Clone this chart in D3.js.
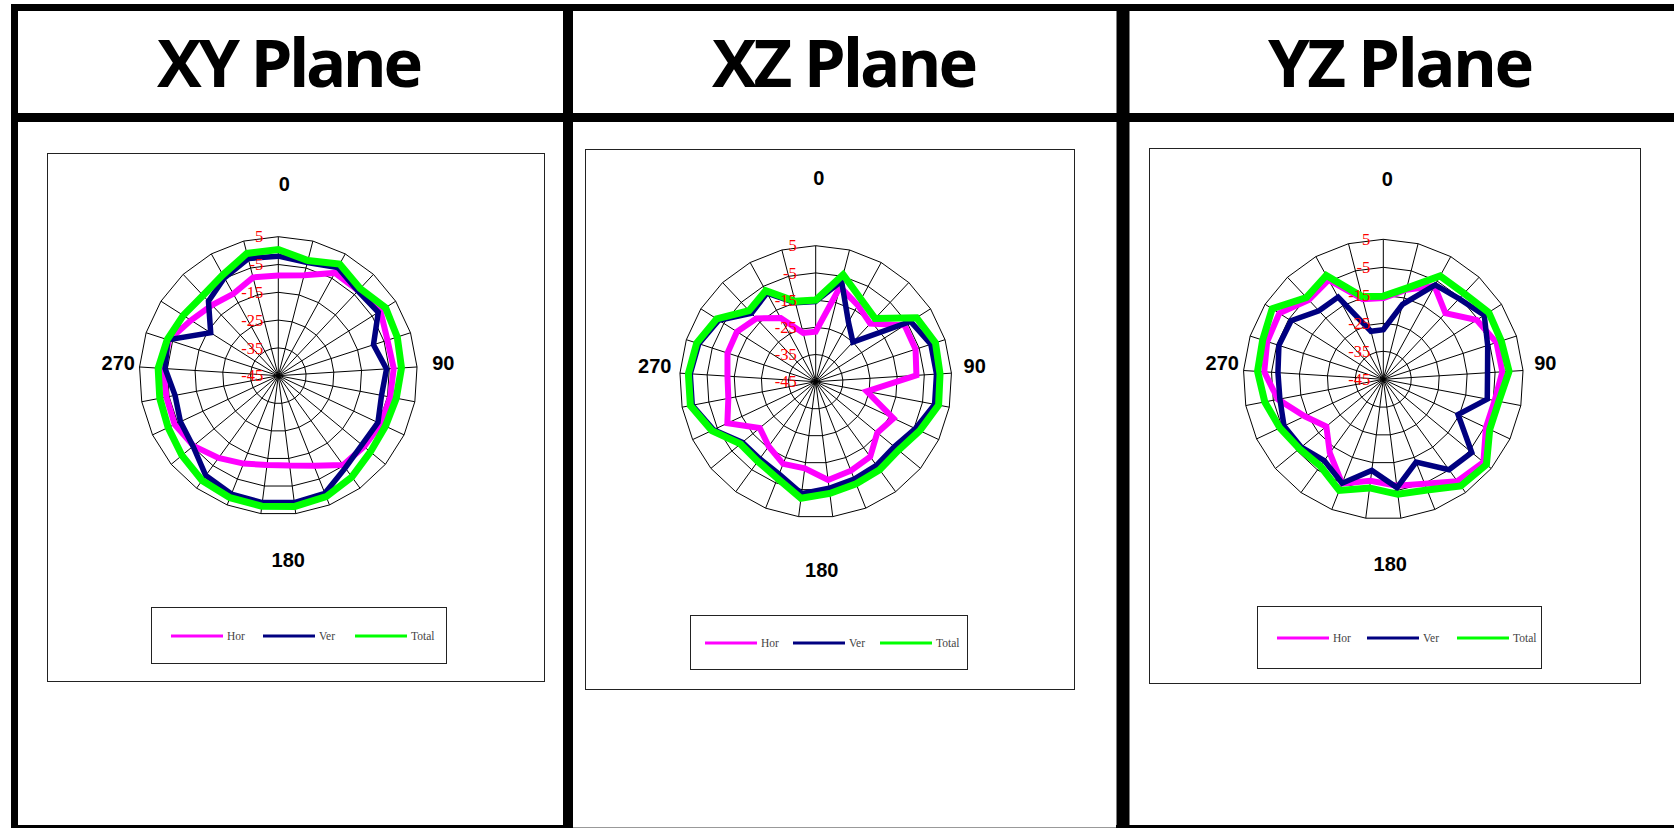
<!DOCTYPE html>
<html>
<head>
<meta charset="utf-8">
<script src="https://cdn.jsdelivr.net/npm/d3@7"></script>
<style>
  body { margin: 0; background: #fff; }
  svg { display: block; }
</style>
</head>
<body>
<svg id="chart" width="1674" height="828"></svg>
<script>
// radar categories (deg), 360 repeats 0 like the excel sheet
var angles = [0,15,30,45,60,75,90,105,120,135,150,165,180,195,210,225,240,255,270,285,300,315,330,345,360];
var ringTicks = [-45,-35,-25,-15,-5,5];
var seriesNames = ["Hor","Ver","Total"];
var seriesColors = ["#ff00ff","#000080","#00ff00"];
var planeTitles = ["XY Plane","XZ Plane","YZ Plane"];
var dirLabels = ["0","90","180","270"];

// XY plane
var xyHor   = [-9,-7.7,-2.8,-3,-1.5,-3.7,-3.4,-4,-4.2,-5,-5.3,-10.2,-12.4,-12.6,-11,-8.4,-5.4,-3.8,-4,-3.5,-3.6,-7.8,-10.2,-11.4,-8.5];
var xyVer   = [-2,-3,-0.6,-3.2,-2.4,-9,-6,-7.2,-5.4,-6,-4,0.5,1,1,0.8,-0.6,-5.2,-6.1,-7.2,-4.2,-3.2,-16.2,-8.3,-4.8,-1.5];
var xyTotal = [0.4,-2.2,0.8,-2,0.7,0,-0.6,-1.8,-2.4,-2,0,1.8,2.4,2.3,2.2,1.6,0,-1.2,-1.6,-1.7,-3,-4.5,-5.4,-3.6,0.4];

// XZ plane
var xzHor   = [-26.6,-9,-12.9,-15.7,-6.3,-6.4,-7.9,-25.9,-13.4,-15.6,-10.9,-9.8,-8.6,-12.9,-12.5,-15.6,-18.3,-9.1,-12.3,-12.5,-10.9,-10.7,-13.1,-18.3,-26.5];
var xzVer   = [-15.5,-6.8,-20,-25,-3.7,-0.5,-0.5,-0.5,-4.5,-7.5,-7,-6.5,-5.5,-3.5,-8.5,-10,-10,-3.5,1.2,1.2,0.2,-2.8,-10.5,-7.8,-15];
var xzTotal = [-15,-4.4,-10.4,-13.1,-1.1,1.3,0.8,1,-2.7,-5.5,-5,-4.6,-3.6,-1.8,-6.8,-8.8,-9.1,-2.8,1.9,1.9,1,-1.9,-9.2,-6.8,-14.5];

// YZ plane
var yzHor   = [-16,-12,-7,-12.6,-5.5,-2.5,-2.4,-4.5,-4.5,1.4,0,-4.9,-6.7,-8.5,-5,-12.5,-18.6,-14,-6.7,-2.4,-1.4,-1,-6.1,-4.5,-15.5];
var yzVer   = [-27.3,-17.4,-6.5,-5.5,-2.3,-5.8,-7.7,-7.2,-15.5,-4,-5.1,-13.2,-6,-12.2,-5.1,-9.1,-7,-5.8,-7.4,-7.3,-5.8,-6,-11.4,-11.5,-27.3];
var yzTotal = [-15.3,-11.4,-2.9,-2.9,-0.4,-0.7,0,-3,-3,2.8,2.1,-2.5,-3.6,-5.9,-2.3,-6.7,-6.1,-4.2,-1.9,0,0.3,2,-4.9,-2.7,-14.5];

var svg = d3.select("#chart");

// panel layout
var panels = [
  {data:[xyHor,xyVer,xyTotal], colX:290, box:[47,153,544,681], cx:278.3, cy:375.7, R:139,
   legend:[151,607,446,663], legendX:[171,263,355], tickDx:-15,
   labelOff:[[6,-192],[165,-13],[10,184],[-160,-13]]},
  {data:[xzHor,xzVer,xzTotal], colX:845, box:[585,149,1074,689], cx:815.7, cy:381.7, R:136,
   legend:[690,615,967,669], legendX:[705,793,880], tickDx:-19,
   labelOff:[[3,-204],[159,-16],[6,188],[-161,-16]]},
  {data:[yzHor,yzVer,yzTotal], colX:1401, box:[1149,148,1640,683], cx:1383.3, cy:379.3, R:140,
   legend:[1257,606,1541,668], legendX:[1277,1367,1457], tickDx:-13,
   labelOff:[[4,-200],[162,-16],[7,185],[-161,-16]]}
];

// table frame
var frame = svg.append("g").attr("stroke","#000");
frame.append("line").attr("x1",11).attr("x2",1674).attr("y1",7.5).attr("y2",7.5).attr("stroke-width",7);
frame.append("line").attr("x1",11).attr("x2",1674).attr("y1",117.5).attr("y2",117.5).attr("stroke-width",9);
frame.append("line").attr("x1",14.5).attr("x2",14.5).attr("y1",4).attr("y2",828).attr("stroke-width",7);
frame.append("line").attr("x1",568).attr("x2",568).attr("y1",4).attr("y2",828).attr("stroke-width",10);
frame.append("line").attr("x1",1123).attr("x2",1123).attr("y1",4).attr("y2",828).attr("stroke-width",13);
frame.append("line").attr("x1",11).attr("x2",573).attr("y1",827).attr("y2",827).attr("stroke-width",4);
frame.append("line").attr("x1",1116).attr("x2",1674).attr("y1",827).attr("y2",827).attr("stroke-width",4);
frame.append("line").attr("x1",573).attr("x2",1116).attr("y1",827.5).attr("y2",827.5).attr("stroke-width",1).attr("stroke","#999");

panels.forEach(function(p, pi) {
  // header
  svg.append("text")
    .attr("x", p.colX).attr("y", 87)
    .attr("text-anchor","middle")
    .attr("font-family","'Open Sans', sans-serif")
    .attr("font-weight",700)
    .attr("font-size",67)
    .attr("textLength",266)
    .text(planeTitles[pi]);

  // chart area box
  svg.append("rect")
    .attr("x", p.box[0] + 0.5).attr("y", p.box[1] + 0.5)
    .attr("width", p.box[2] - p.box[0]).attr("height", p.box[3] - p.box[1])
    .attr("fill","#fff").attr("stroke","#222").attr("stroke-width",1);

  var g = svg.append("g").attr("transform","translate(" + p.cx + "," + p.cy + ")");

  var r = d3.scaleLinear().domain([-45, 5]).range([0, p.R]);
  var a = d3.scaleLinear().domain([0, angles.length]).range([0, 2 * Math.PI]);

  // grid rings (polygons) and spokes
  var ring = d3.lineRadial()
    .angle(function(d, i) { return a(i); })
    .radius(function(d) { return r(d); })
    .curve(d3.curveLinearClosed);

  ringTicks.slice(1).forEach(function(t) {
    g.append("path")
      .attr("d", ring(angles.map(function() { return t; })))
      .attr("fill","none").attr("stroke","#000").attr("stroke-width",1);
  });

  g.selectAll("line.spoke").data(angles).enter().append("line")
    .attr("class","spoke")
    .attr("x1",0).attr("y1",0)
    .attr("x2", function(d, i) { return r(5) * Math.sin(a(i)); })
    .attr("y2", function(d, i) { return -r(5) * Math.cos(a(i)); })
    .attr("stroke","#000").attr("stroke-width",1);

  // series
  var line = d3.lineRadial()
    .angle(function(d, i) { return a(i); })
    .radius(function(d) { return r(d); })
    .curve(d3.curveLinearClosed);

  var widths = [6, 5.5, 7];
  p.data.forEach(function(vals, si) {
    g.append("path")
      .attr("d", line(vals))
      .attr("fill","none")
      .attr("stroke", seriesColors[si])
      .attr("stroke-width", widths[si]);
  });

  // red ring labels
  g.selectAll("text.tick").data(ringTicks).enter().append("text")
    .attr("class","tick")
    .attr("x", p.tickDx)
    .attr("y", function(d) { return -r(d); })
    .attr("dy","0.35em")
    .attr("text-anchor","end")
    .attr("font-family","'Liberation Serif', serif")
    .attr("font-size",16.5)
    .attr("fill","#ff0000")
    .text(function(d) { return d; });

  // direction labels
  dirLabels.forEach(function(lbl, li) {
    g.append("text")
      .attr("x", p.labelOff[li][0]).attr("y", p.labelOff[li][1])
      .attr("dy","0.35em")
      .attr("text-anchor","middle")
      .attr("font-family","'Liberation Sans', Arial, sans-serif")
      .attr("font-weight",700)
      .attr("font-size",20)
      .text(lbl);
  });

  // legend
  var lb = p.legend;
  svg.append("rect")
    .attr("x", lb[0] + 0.5).attr("y", lb[1] + 0.5)
    .attr("width", lb[2] - lb[0]).attr("height", lb[3] - lb[1])
    .attr("fill","#fff").attr("stroke","#222").attr("stroke-width",1);
  var ly = (lb[1] + lb[3]) / 2 + 1;
  seriesNames.forEach(function(name, si) {
    var x0 = p.legendX[si];
    svg.append("line")
      .attr("x1", x0).attr("x2", x0 + 52)
      .attr("y1", ly).attr("y2", ly)
      .attr("stroke", seriesColors[si]).attr("stroke-width", 3);
    svg.append("text")
      .attr("x", x0 + 56).attr("y", ly + 4)
      .attr("font-family","'Liberation Serif', serif")
      .attr("font-size",11.5)
      .attr("fill","#444")
      .text(name);
  });
});
</script>
</body>
</html>
